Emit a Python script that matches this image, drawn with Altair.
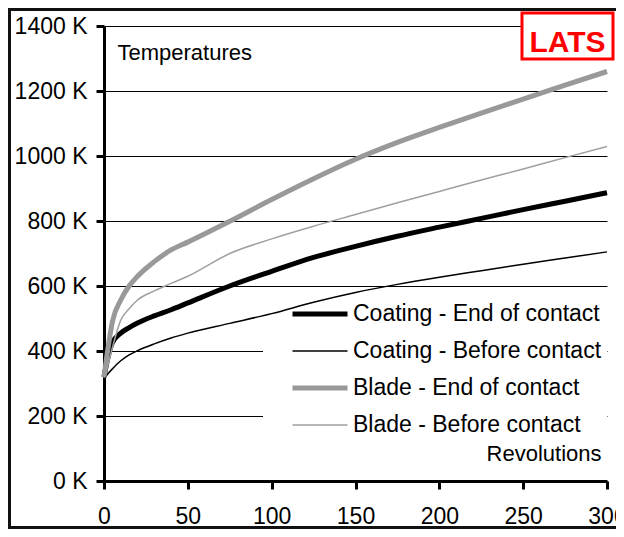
import altair as alt
import pandas as pd

# ---- data ----
revolutions = [0, 2, 5, 10, 15, 20, 30, 40, 50, 75, 100, 125, 150, 175, 200, 225, 250, 275, 300]
coating_end = [320, 372, 425, 455, 472, 486, 508, 527, 548, 600, 645, 688, 722, 753, 781, 808, 835, 861, 887]
coating_before = [315, 328, 345, 370, 388, 401, 422, 440, 455, 485, 515, 550, 580, 605, 627, 647, 667, 686, 705]
blade_end = [320, 395, 490, 557, 600, 630, 675, 711, 735, 799, 866, 930, 990, 1042, 1088, 1132, 1175, 1218, 1260]
blade_before = [318, 350, 410, 495, 530, 557, 585, 608, 630, 700, 745, 784, 820, 856, 891, 926, 960, 995, 1029]

series_names = ["Coating - End of contact", "Coating - Before contact",
                "Blade - End of contact", "Blade - Before contact"]
series_values = [coating_end, coating_before, blade_end, blade_before]
series_colors = ["#000000", "#000000", "#999999", "#a0a0a0"]
series_widths = [5, 1.5, 5, 1.5]

y_ticks = [0, 200, 400, 600, 800, 1000, 1200, 1400]
x_ticks = [0, 50, 100, 150, 200, 250, 300]

rows = []
for name, vals in zip(series_names, series_values):
    for r, t in zip(revolutions, vals):
        rows.append({"rev": r, "temp": t, "series": name})
df = pd.DataFrame(rows)
one = pd.DataFrame({"label": ["LATS"]})

FONT = "Liberation Sans"

legend = alt.Legend(
    title=None, orient="none", legendX=186, legendY=276.5, padding=0,
    symbolType="stroke", symbolSize=3025, clipHeight=23, rowPadding=13,
    labelOffset=3, labelFont=FONT, labelFontSize=23, labelColor="black",
    labelLimit=400, symbolOpacity=1,
)

# white area behind the legend (hides the short grid lines)
cover = alt.Chart(one).mark_rect(fill="white", stroke=None).encode(
    x=alt.value(159), x2=alt.value(503), y=alt.value(304), y2=alt.value(414)
)

lines = alt.Chart(df).mark_line(strokeJoin="round", interpolate="monotone").encode(
    x=alt.X("rev:Q", scale=alt.Scale(domain=[0, 300], nice=False),
            axis=alt.Axis(values=x_ticks, title="Revolutions", grid=False,
                          titleX=497, titleY=-28, titleAlign="right",
                          titleBaseline="middle", labelPadding=16,
                          labelFlush=False)),
    y=alt.Y("temp:Q", scale=alt.Scale(domain=[0, 1400], nice=False),
            axis=alt.Axis(values=y_ticks, labelExpr="datum.value + ' K'",
                          title="Temperatures", grid=True, gridColor="black",
                          gridWidth=1, gridOpacity=1, titleX=13, titleY=26,
                          titleAngle=0, titleAlign="left",
                          titleBaseline="middle", labelPadding=9)),
    color=alt.Color("series:N",
                    scale=alt.Scale(domain=series_names, range=series_colors),
                    legend=legend),
    strokeWidth=alt.StrokeWidth("series:N",
                                scale=alt.Scale(type="ordinal", domain=series_names,
                                                range=series_widths),
                                legend=legend),
)

lats_box = alt.Chart(one).mark_rect(fill="white", stroke="#ff0000", strokeWidth=3).encode(
    x=alt.value(418), x2=alt.value(509), y=alt.value(-13), y2=alt.value(33)
)
lats_text = alt.Chart(one).mark_text(
    font=FONT, fontSize=30, fontWeight="bold", color="#ff0000",
    align="center", baseline="alphabetic"
).encode(x=alt.value(463.5), y=alt.value(26), text="label:N")

border = alt.Chart(one).mark_rect(fill=None, stroke="#111111", strokeWidth=3).encode(
    x=alt.value(-94.5), x2=alt.value(560), y=alt.value(-16.5), y2=alt.value(501.5)
)

chart = alt.layer(cover, lines, lats_box, lats_text, border).properties(
    width=503, height=455,
    autosize=alt.AutoSizeParams(type="none"),
    padding={"left": 96, "top": 18, "right": 9, "bottom": 48},
    background="white",
).configure_view(stroke=None).configure_axis(
    domainColor="black", domainWidth=3, tickColor="black", tickWidth=3,
    tickSize=8, labelFont=FONT, labelFontSize=23, labelColor="black",
    titleFont=FONT, titleFontSize=22, titleFontWeight="normal",
    titleColor="black", zindex=0,
)

chart.save("out.html", embed_options={"renderer": "svg", "actions": False})
